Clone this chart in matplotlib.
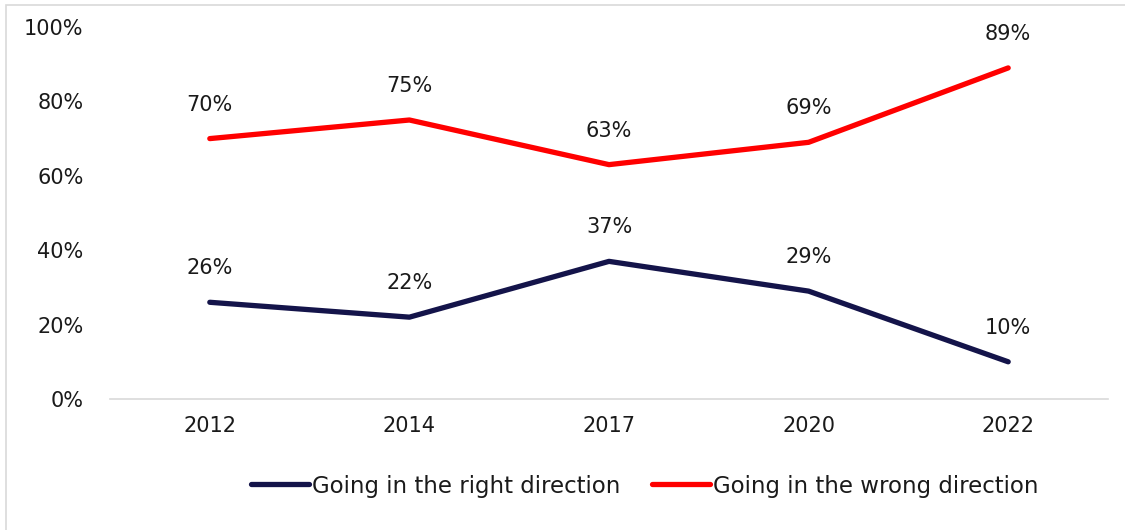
import matplotlib
matplotlib.use("Agg")
import matplotlib.pyplot as plt
from matplotlib.patches import Rectangle

years = ["2012", "2014", "2017", "2020", "2022"]
right_dir = [26, 22, 37, 29, 10]
wrong_dir = [70, 75, 63, 69, 89]
series_names = ["Going in the right direction", "Going in the wrong direction"]
yticks = [0, 20, 40, 60, 80, 100]

plt.rcParams['font.family'] = ['DejaVu Sans']
FS = 15
W, H = 1125, 530
fig = plt.figure(figsize=(W/100, H/100), dpi=100)
ax = fig.add_axes([110/W, 1-399/H, 998/W, 372/H])

x = list(range(len(years)))
c_right = "#14144a"
c_wrong = "#ff0000"
l1, = ax.plot(x, right_dir, color=c_right, lw=3.8, solid_capstyle='round', solid_joinstyle='round')
l2, = ax.plot(x, wrong_dir, color=c_wrong, lw=3.8, solid_capstyle='round', solid_joinstyle='round')

for xi, v in zip(x, right_dir):
    ax.annotate(f"{v}%", (xi, v), xytext=(0, 24.5), textcoords='offset points',
                ha='center', va='center', fontsize=FS, color='#1a1a1a')
for xi, v in zip(x, wrong_dir):
    ax.annotate(f"{v}%", (xi, v), xytext=(0, 24.5), textcoords='offset points',
                ha='center', va='center', fontsize=FS, color='#1a1a1a')

ax.set_xlim(-0.5, len(years)-0.5)
ax.set_ylim(0, 100)
ax.set_yticks(yticks)
ax.set_yticklabels([f"{t}%" for t in yticks], fontsize=FS, color='#1a1a1a')
ax.set_xticks(x)
ax.set_xticklabels(years, fontsize=FS, color='#1a1a1a')
ax.tick_params(axis='both', length=0)
ax.tick_params(axis='y', pad=19)
ax.tick_params(axis='x', pad=12)
for s in ['top', 'right', 'left']:
    ax.spines[s].set_visible(False)
ax.spines['bottom'].set_color('#d9d9d9')
ax.spines['bottom'].set_linewidth(1.2)

leg = fig.legend([l1, l2], series_names, loc='center', bbox_to_anchor=(645/W, 1-486/H),
                 ncol=2, frameon=False, fontsize=16.5, handlelength=2.5,
                 handletextpad=0.15, columnspacing=1.4)
for t in leg.get_texts():
    t.set_color('#1a1a1a')

fig.patches.append(Rectangle((6/W, -0.05), 1.2, (1-5/H)+0.05, transform=fig.transFigure,
                             fill=False, edgecolor='#d9d9d9', lw=1.2))

fig.savefig("out.png", dpi=100, facecolor='white')
